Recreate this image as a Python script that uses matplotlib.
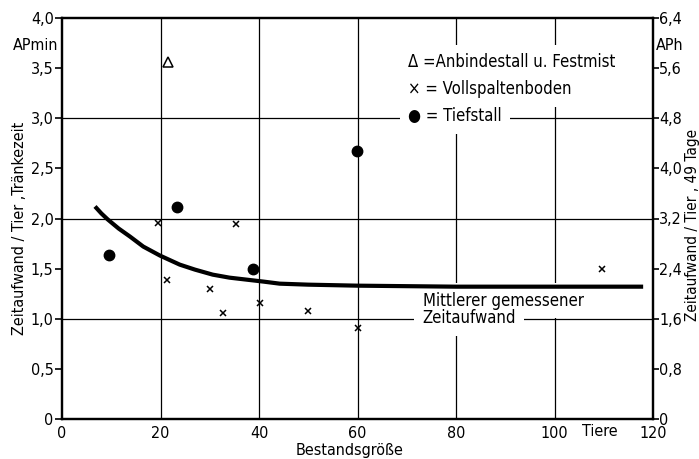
import matplotlib.pyplot as plt
from matplotlib.ticker import FixedLocator, FuncFormatter

plt.rcParams['font.family'] = ['DejaVu Sans']
plt.rcParams['font.stretch'] = 'condensed'

anbinde_x = [21.5]
anbinde_y = [3.56]

spalten_x = [19.5, 21.3, 30.0, 32.6, 35.4, 40.2, 50.0, 60.0, 109.7]
spalten_y = [1.96, 1.39, 1.30, 1.06, 1.95, 1.16, 1.08, 0.91, 1.50]

tief_x = [9.5, 23.3, 38.7, 59.8]
tief_y = [1.64, 2.11, 1.50, 2.67]

kurve_x = [6.7, 8.0, 9.3, 11.5, 13.8, 16.5, 19.9, 23.9, 27.0, 30.6, 34.0, 37.5, 41.0,
           44.2, 50.0, 55.0, 60.0, 70.0, 80.0, 100.0, 118.0]
kurve_y = [2.12, 2.05, 1.99, 1.90, 1.82, 1.72, 1.63, 1.54, 1.49, 1.44, 1.41, 1.39, 1.37,
           1.35, 1.34, 1.335, 1.33, 1.325, 1.32, 1.32, 1.32]

x_ticks = [0, 20, 40, 60, 80, 100, 120]
y_ticks = [0, 0.5, 1.0, 1.5, 2.0, 2.5, 3.0, 3.5, 4.0]
y2_ticks = [0, 0.8, 1.6, 2.4, 3.2, 4.0, 4.8, 5.6, 6.4]


def komma(v, pos=None):
    if v == 0:
        return '0'
    return f'{v:.1f}'.replace('.', ',')


fs = 11.5
fs_txt = 12.0
fig = plt.figure(figsize=(6.99, 4.59), dpi=100)
ax = fig.add_axes([62 / 699, 40 / 459, 591 / 699, 401 / 459])

# Gitter
for gx in [20, 40, 60, 80, 100]:
    ax.axvline(gx, color='black', lw=0.9, zorder=1)
for gy in [1.0, 2.0, 3.0]:
    ax.axhline(gy, color='black', lw=0.9, zorder=1)

ax.plot(kurve_x, kurve_y, color='black', lw=3.0, solid_capstyle='butt', solid_joinstyle='round', zorder=6)
ax.plot(spalten_x, spalten_y, 'x', color='black', ms=5, mew=1.1, zorder=4)
ax.plot(tief_x, tief_y, 'o', color='black', ms=7.5, zorder=4)
ax.plot(anbinde_x, anbinde_y, '^', mfc='none', mec='black', ms=6.5, mew=1.1, zorder=4)

ax.set_xlim(0, 120)
ax.set_ylim(0, 4.0)
ax.xaxis.set_major_locator(FixedLocator(x_ticks))
ax.yaxis.set_major_locator(FixedLocator(y_ticks))
ax.yaxis.set_major_formatter(FuncFormatter(komma))
ax.tick_params(axis='x', length=0, pad=5, labelsize=fs)
ax.tick_params(axis='y', length=5, width=1.2, pad=1, labelsize=fs)
for s in ax.spines.values():
    s.set_linewidth(1.6)

ax2 = ax.twinx()
ax2.set_ylim(0, 6.4)
ax2.yaxis.set_major_locator(FixedLocator(y2_ticks))
ax2.yaxis.set_major_formatter(FuncFormatter(komma))
ax2.tick_params(axis='y', length=4, width=1.2, pad=0.5, labelsize=fs)
for s in ax2.spines.values():
    s.set_linewidth(1.6)

fig.text(20 / 699, 1 - 228 / 459, 'Zeitaufwand / Tier ,Tränkezeit', fontsize=fs,
         rotation=90, ha='center', va='center')
fig.text(692 / 699, 1 - 225 / 459, 'Zeitaufwand / Tier , 49 Tage', fontsize=fs - 0.5,
         rotation=90, ha='center', va='center')
fig.text(350 / 699, 1 - 451 / 459, 'Bestandsgröße', fontsize=fs, ha='center', va='center')

fig.text(36 / 699, 1 - 45 / 459, 'APmin', fontsize=fs, ha='center', va='center')
fig.text(670 / 699, 1 - 45 / 459, 'APh', fontsize=fs, ha='center', va='center')
fig.text(600 / 699, 1 - 432 / 459, 'Tiere', fontsize=fs, ha='center', va='center')

box = dict(facecolor='white', edgecolor='none', pad=6)


def beschriftung(x, y, s):
    # weisser Kasten unterbricht das Gitter, Text darueber
    ax.text(x, y, s, fontsize=fs_txt, va='baseline', color='white', bbox=box, zorder=5)
    ax.text(x, y, s, fontsize=fs_txt, va='baseline', color='black', zorder=7)


lx = 70.3
beschriftung(lx, 3.51, '\u0394 =Anbindestall u. Festmist')
beschriftung(lx, 3.24, '\u00d7 = Vollspaltenboden')
beschriftung(lx, 2.97, '\u25cf = Tiefstall')

beschriftung(73.2, 1.13, 'Mittlerer gemessener')
beschriftung(73.2, 0.955, 'Zeitaufwand')

fig.savefig('out.png', dpi=100)
